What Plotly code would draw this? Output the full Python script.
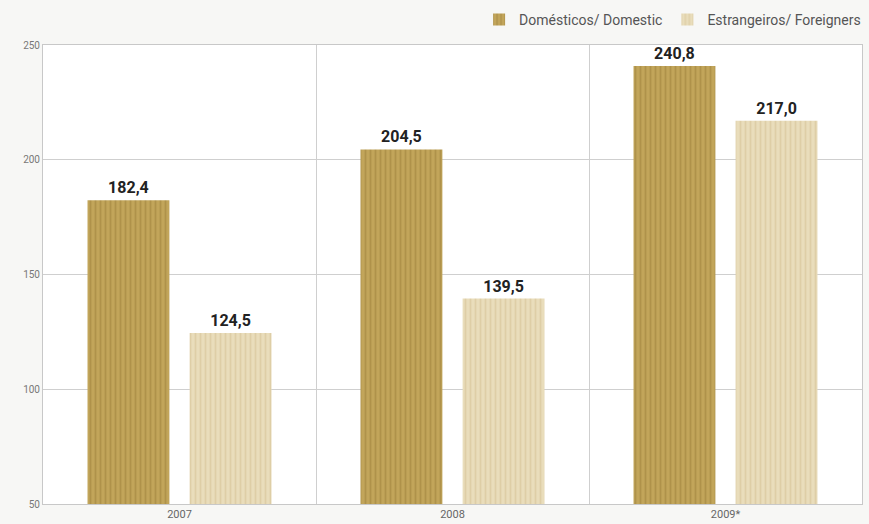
import plotly.graph_objects as go

years = ["2007", "2008", "2009*"]
domestic = [182.4, 204.5, 240.8]
foreign = [124.5, 139.5, 217.0]
y_ticks = [50, 100, 150, 200, 250]

def fmt(v):
    return f"{v:.1f}".replace(".", ",")

x_pos = list(range(len(years)))

label_font = dict(family="Roboto", size=16, color="#222222", weight="bold")

fig = go.Figure()
fig.add_trace(go.Bar(
    x=x_pos, y=domestic, name="Domésticos/ Domestic",
    text=[fmt(v) for v in domestic], textposition="outside",
    textfont=label_font,
    marker=dict(color="#b8994f", line=dict(width=0),
                pattern=dict(shape="|", fgcolor="#9c7f3a", bgcolor="#c2a55a", size=5, solidity=0.35)),
    cliponaxis=False,
))
fig.add_trace(go.Bar(
    x=x_pos, y=foreign, name="Estrangeiros/ Foreigners",
    text=[fmt(v) for v in foreign], textposition="outside",
    textfont=label_font,
    marker=dict(color="#e3d5ad", line=dict(width=0),
                pattern=dict(shape="|", fgcolor="#d3c092", bgcolor="#e9ddbb", size=5, solidity=0.35)),
    cliponaxis=False,
))

fig.update_layout(
    width=869, height=524,
    margin=dict(l=43, r=7, t=45, b=20, autoexpand=False),
    paper_bgcolor="#f7f7f5", plot_bgcolor="#ffffff",
    barmode="group", bargap=0.252, bargroupgap=0.198,
    showlegend=True,
    legend=dict(orientation="h", x=1.005, xanchor="right", y=1.02, yanchor="bottom",
                font=dict(family="Roboto", size=14, color="#555555"),
                bgcolor="rgba(0,0,0,0)", traceorder="normal", itemwidth=30),
    font=dict(family="Roboto", color="#666666"),
)
fig.update_xaxes(
    range=[-0.5, 2.5], tickmode="array", tickvals=x_pos, ticktext=years,
    showgrid=False, ticks="", tickfont=dict(size=11, color="#666666"),
    showline=True, linecolor="#c8c8c8", mirror=True, automargin=False,
    minor=dict(tickmode="array", tickvals=[0.5, 1.5], showgrid=True, gridcolor="#cfcfcf", gridwidth=1, ticks=""),
    zeroline=False,
)
fig.update_yaxes(
    range=[50, 250], tickmode="array", tickvals=y_ticks,
    showgrid=True, gridcolor="#cfcfcf", gridwidth=1,
    tickfont=dict(size=10, color="#777777"), ticks="", automargin=False,
    showline=True, linecolor="#c8c8c8", mirror=True, zeroline=False,
)

fig.write_html("out.html", config={"displayModeBar": False},
               post_script="document.body.style.margin='0px';document.body.style.overflow='hidden';")
